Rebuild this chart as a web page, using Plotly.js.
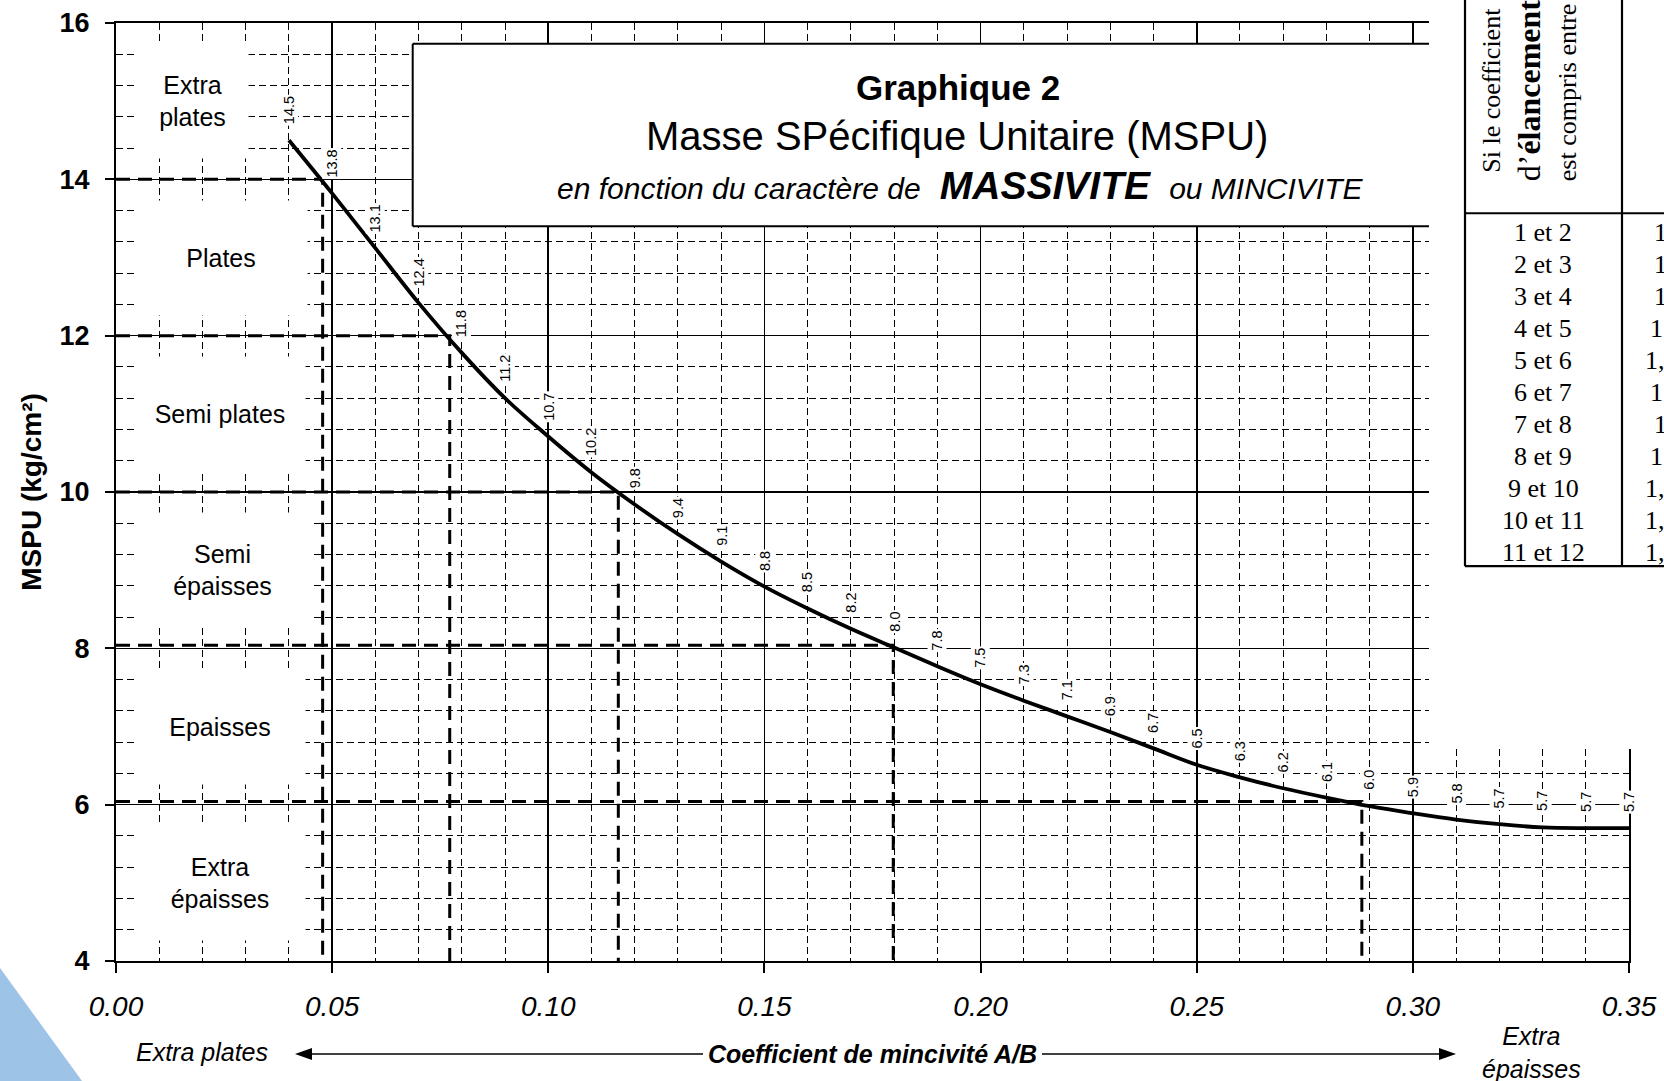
<!DOCTYPE html>
<html><head><meta charset="utf-8">
<script src="https://cdn.plot.ly/plotly-3.0.1.min.js"></script>
<style>html,body{margin:0;padding:0;overflow:hidden;background:#fff}#chart{width:1664px;height:1081px}</style>
</head><body><div id="chart"></div>
<script>
// ---- data ----
const coefMincivite = [0.04,0.05,0.06,0.07,0.08,0.09,0.10,0.11,0.12,0.13,0.14,0.15,0.16,0.17,0.18,0.19,0.20,0.21,0.22,0.23,0.24,0.25,0.26,0.27,0.28,0.29,0.30,0.31,0.32,0.33,0.34,0.35];
const mspu = [14.5,13.82,13.12,12.42,11.78,11.2,10.71,10.25,9.84,9.46,9.11,8.79,8.51,8.25,8.01,7.77,7.54,7.33,7.13,6.93,6.72,6.51,6.35,6.21,6.09,5.98,5.89,5.81,5.75,5.71,5.7,5.7];
const mspuLabels = ["14.5","13.8","13.1","12.4","11.8","11.2","10.7","10.2","9.8","9.4","9.1","8.8","8.5","8.2","8.0","7.8","7.5","7.3","7.1","6.9","6.7","6.5","6.3","6.2","6.1","6.0","5.9","5.8","5.7","5.7","5.7","5.7"];
const classLevels = [14, 12, 10, 8.04, 6.04];
const classCrossX = [0.0478, 0.0772, 0.1162, 0.1798, 0.2882];
const classNames = ["Extra<br>plates","Plates","Semi plates","Semi<br>épaisses","Epaisses","Extra<br>épaisses"];
const classCenterY = [15, 13, 11, 9, 7, 5];
const tableRange = ["1 et 2","2 et 3","3 et 4","4 et 5","5 et 6","6 et 7","7 et 8","8 et 9","9 et 10","10 et 11","11 et 12"];
const tableCoef = ["1","1","1","1","1,","1","1","1","1,","1,","1,"];

// ---- helpers (pixel -> paper) ----
const FONT = 'Liberation Sans, Arial, sans-serif';
const SERIF = 'Liberation Serif, Times New Roman, serif';
const PL = 116, PR = 1629, PT = 22.7, PB = 961;
const px = v => (v - PL) / (PR - PL);
const py = v => (PB - v) / (PB - PT);

const traces = [];
classLevels.forEach((lv, i) => {
  traces.push({x:[0, classCrossX[i], classCrossX[i]], y:[lv, lv, 4], mode:'lines', type:'scatter',
    line:{color:'#000', width:3, dash:'14px,8px'}, hoverinfo:'skip'});
});
traces.push({x:coefMincivite, y:mspu, mode:'lines', type:'scatter',
  line:{color:'#000', width:3.8, shape:'spline', smoothing:1}, hoverinfo:'skip'});

const shapes = [];
const paperLine = (x0,y0,x1,y1,w) => ({type:'line', xref:'paper', yref:'paper', x0:px(x0), y0:py(y0), x1:px(x1), y1:py(y1), line:{color:'#000', width:w||2}, layer:'above'});
// white area at the right (table zone)
shapes.push({type:'rect', xref:'paper', yref:'paper', x0:px(1429), x1:px(1700), y0:py(749), y1:py(-20), fillcolor:'#fff', line:{width:0}, layer:'above'});
// title box
shapes.push({type:'rect', xref:'paper', yref:'paper', x0:px(412.7), x1:px(1429), y0:py(226), y1:py(43.5), fillcolor:'#fff', line:{width:0}, layer:'above'});
shapes.push(paperLine(412.7,43.5,412.7,226,2));
shapes.push(paperLine(412.7,43.5,1429,43.5,2));
shapes.push(paperLine(412.7,226,1429,226,2));
// table
shapes.push(paperLine(1465,-5,1465,566,2.2));
shapes.push(paperLine(1622,-5,1622,566,2.2));
shapes.push(paperLine(1465,213,1680,213,2.2));
shapes.push(paperLine(1465,566,1680,566,2.2));
// arrows
shapes.push(paperLine(310,1054,703,1054,1.6));
shapes.push(paperLine(1042,1054,1441,1054,1.6));
shapes.push({type:'path', xref:'paper', yref:'paper', path:`M${px(295)},${py(1054)} L${px(312)},${py(1048)} L${px(312)},${py(1060)} Z`, fillcolor:'#000', line:{width:0}, layer:'above'});
shapes.push({type:'path', xref:'paper', yref:'paper', path:`M${px(1456)},${py(1054)} L${px(1439)},${py(1048)} L${px(1439)},${py(1060)} Z`, fillcolor:'#000', line:{width:0}, layer:'above'});
// blue corner shape
shapes.push({type:'path', xref:'paper', yref:'paper', path:`M${px(0)},${py(968)} L${px(82)},${py(1081)} L${px(0)},${py(1081)} Z`, fillcolor:'#9dc3e6', line:{width:0}, layer:'above'});

const annotations = [];
// title
annotations.push({xref:'paper', yref:'paper', x:px(958), y:py(87), text:'<b>Graphique 2</b>', showarrow:false, font:{size:35, family:FONT}, xanchor:'center', yanchor:'middle'});
annotations.push({xref:'paper', yref:'paper', x:px(957), y:py(136), text:'Masse SPécifique Unitaire (MSPU)', showarrow:false, font:{size:40, family:FONT}, xanchor:'center', yanchor:'middle'});
annotations.push({xref:'paper', yref:'paper', x:px(960), y:py(185), text:'<i>en fonction du caractère de\u00a0<span style="font-size:39px">\u00a0<b>MASSIVITE</b>\u00a0</span>\u00a0ou MINCIVITE</i>', showarrow:false, font:{size:30, family:FONT}, xanchor:'center', yanchor:'middle'});
// class labels with white boxes
const classBoxX = [192.5, 221, 220, 222.5, 220, 220];
const classBoxW = [111, 172, 170, 175, 170, 170];
classNames.forEach((t, i) => {
  annotations.push({xref:'paper', yref:'y', x:px(classBoxX[i]), y:classCenterY[i], text:t, showarrow:false,
    font:{size:25, family:FONT}, bgcolor:'#fff', borderpad:0, width:classBoxW[i], height:114, align:'center', xanchor:'center', yanchor:'middle'});
});
// point labels
coefMincivite.forEach((x, i) => {
  annotations.push({x:x, y:mspu[i], text:mspuLabels[i], showarrow:false, textangle:-90, font:{size:14.5, family:FONT},
    bgcolor:'#fff', borderpad:1, xanchor:'center', yanchor:'bottom', yshift:14});
});
// bottom labels
annotations.push({xref:'paper', yref:'paper', x:px(202), y:py(1052), text:'<i>Extra plates</i>', showarrow:false, font:{size:25, family:FONT}, xanchor:'center', yanchor:'middle'});
annotations.push({xref:'paper', yref:'paper', x:px(1531), y:py(1053), text:'<i>Extra<br>épaisses</i>', showarrow:false, font:{size:25, family:FONT}, xanchor:'center', yanchor:'middle'});
// table header
annotations.push({xref:'paper', yref:'paper', x:px(1492), y:py(175), text:'Si le coefficient', showarrow:false, textangle:-90, font:{size:26, family:SERIF}, xanchor:'center', yanchor:'bottom'});
annotations.push({xref:'paper', yref:'paper', x:px(1529), y:py(183), text:'d’<b>élancement</b>', showarrow:false, textangle:-90, font:{size:32, family:SERIF}, xanchor:'center', yanchor:'bottom'});
annotations.push({xref:'paper', yref:'paper', x:px(1567), y:py(183), text:'est compris entre', showarrow:false, textangle:-90, font:{size:26, family:SERIF}, xanchor:'center', yanchor:'bottom'});
tableRange.forEach((t, i) => {
  const yy = 232 + 32 * i;
  annotations.push({xref:'paper', yref:'paper', x:px(1543), y:py(yy), text:t, showarrow:false, font:{size:26, family:SERIF}, xanchor:'center', yanchor:'middle'});
  const sx = [1652,1652,1652,1648,1643,1648,1652,1648,1643,1643,1643][i];
  annotations.push({xref:'paper', yref:'paper', x:px(sx), y:py(yy), text:tableCoef[i], showarrow:false, font:{size:26, family:SERIF}, xanchor:'left', yanchor:'middle'});
});

const layout = {
  width:1664, height:1081,
  margin:{l:116, r:35, t:23, b:120, pad:0},
  paper_bgcolor:'#fff', plot_bgcolor:'#fff',
  showlegend:false,
  font:{family:FONT, color:'#000'},
  xaxis:{range:[0,0.35], tick0:0, dtick:0.05, tickformat:'.2f', showgrid:true, gridcolor:'#000', gridwidth:1.6,
    zeroline:false, showline:true, linecolor:'#000', linewidth:2, mirror:true,
    ticks:'outside', ticklen:10, tickwidth:2, tickcolor:'#000', ticklabelstandoff:9,
    tickfont:{size:28, style:'italic', family:FONT},
    minor:{dtick:0.01, tick0:0, showgrid:true, gridcolor:'#000', gridwidth:1, griddash:'7px,4px'},
    title:{text:'Coefficient de mincivité A/B', font:{size:25, weight:'bold', style:'italic', family:FONT}, standoff:25},
    fixedrange:true},
  yaxis:{range:[4,16], tick0:4, dtick:2, showgrid:true, gridcolor:'#000', gridwidth:1.6,
    zeroline:false, showline:true, linecolor:'#000', linewidth:2, mirror:true,
    ticks:'outside', ticklen:9, tickwidth:2, tickcolor:'#000', ticklabelstandoff:10,
    tickfont:{size:27, weight:'bold', family:FONT},
    minor:{dtick:0.4, tick0:4, showgrid:true, gridcolor:'#000', gridwidth:1, griddash:'7px,4px'},
    title:{text:'MSPU (kg/cm²)', font:{size:28, weight:'bold', family:FONT}, standoff:10},
    fixedrange:true},
  shapes:shapes,
  annotations:annotations
};
Plotly.newPlot('chart', traces, layout, {displayModeBar:false, staticPlot:true});
</script></body></html>
